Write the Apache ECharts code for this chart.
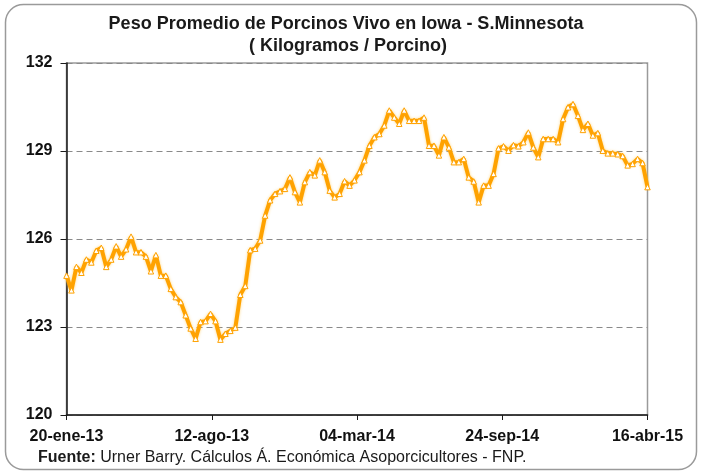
<!DOCTYPE html>
<html>
<head>
<meta charset="utf-8">
<script src="https://cdn.jsdelivr.net/npm/echarts@6/dist/echarts.min.js"></script>
<style>
html,body{margin:0;padding:0;background:#fff;}
#chart{width:704px;height:473px;}
</style>
</head>
<body>
<div id="chart"></div>
<script>
const titleLines = ['Peso Promedio de Porcinos Vivo en Iowa - S.Minnesota', '( Kilogramos / Porcino)'];
const sourceLabel = 'Fuente:';
const sourceText = ' Urner Barry. Cálculos Á. Económica Asoporcicultores - FNP.';
const xTickLabels = ['20-ene-13', '12-ago-13', '04-mar-14', '24-sep-14', '16-abr-15'];
const yTicks = [120, 123, 126, 129, 132];
// weekly average live weight (kg/pig)
const weights2013a = [124.75, 124.25, 125.05, 124.85, 125.3, 125.2, 125.6, 125.7, 125.05, 125.3, 125.75, 125.4, 125.65, 126.08, 125.55, 125.55, 125.4, 124.9, 125.45, 124.75, 124.75, 124.3];
const weights2013b = [124.02, 123.85, 123.4, 122.95, 122.6, 123.17, 123.2, 123.45, 123.2, 122.57, 122.77, 122.87, 122.98, 124.1, 124.4, 125.62, 125.67, 125.95];
const weights2013c = [126.8, 127.32, 127.54, 127.63, 127.71, 128.1, 127.6, 127.25, 127.94, 128.28, 128.17, 128.68, 128.28, 127.65, 127.42, 127.54, 127.97, 127.82];
const weights2014a = [128.0, 128.28, 128.68, 129.18, 129.47, 129.58, 129.87, 130.38, 130.14, 129.93, 130.38, 130.03, 130.03, 130.03, 130.14, 129.18, 129.18, 128.85, 129.47, 129.12];
const weights2014b = [128.62, 128.62, 128.73, 128.1, 127.96, 127.25, 127.82, 127.82, 128.22, 129.09, 129.16, 129.01, 129.2, 129.16, 129.3, 129.63, 129.12, 128.79];
const weights2015 = [129.41, 129.41, 129.41, 129.3, 130.09, 130.49, 130.6, 130.2, 129.72, 129.93, 129.53, 129.61, 129.01, 128.92, 128.92, 128.89, 128.83, 128.51, 128.56, 128.73, 128.59, 127.77];

const weights = [].concat(weights2013a, weights2013b, weights2013c, weights2014a, weights2014b, weights2015);
const nWeeks = weights.length - 1;
const xStep = nWeeks / (xTickLabels.length - 1);
const seriesData = weights.map((v, i) => [i, v]);

const chart = echarts.init(document.getElementById('chart'), null, {renderer: 'canvas'});
const FONT = '"Liberation Sans", Arial, sans-serif';
const ORANGE = '#FFA200';

chart.setOption({
  animation: false,
  backgroundColor: '#ffffff',
  grid: {left: 66.5, right: 56.5, top: 63, bottom: 58, show: true, borderColor: '#9a9a9a', borderWidth: 1.5, backgroundColor: 'transparent'},
  xAxis: {
    type: 'value', min: 0, max: nWeeks, interval: xStep,
    axisLine: {show: true, onZero: false, lineStyle: {color: '#1a1a1a', width: 1.5}},
    axisTick: {show: true, inside: false, length: 5, lineStyle: {color: '#1a1a1a'}},
    axisLabel: {margin: 14, fontFamily: FONT, fontWeight: 'bold', fontSize: 16, color: '#111',
      formatter: v => xTickLabels[Math.round(v / xStep)] || ''},
    splitLine: {show: false}
  },
  yAxis: {
    type: 'value', min: yTicks[0], max: yTicks[yTicks.length - 1], interval: yTicks[1] - yTicks[0],
    axisLine: {show: true, lineStyle: {color: '#1a1a1a', width: 1.5}},
    axisTick: {show: true, inside: false, length: 6, lineStyle: {color: '#1a1a1a'}},
    axisLabel: {margin: 14, fontFamily: FONT, fontWeight: 'bold', fontSize: 16, color: '#111'},
    splitLine: {show: true, lineStyle: {color: '#8a8a8a', width: 1.2, type: [6, 4]}}
  },
  series: [{
    type: 'line',
    data: seriesData,
    symbol: 'triangle',
    symbolSize: 5.5,
    showAllSymbol: true,
    lineStyle: {color: ORANGE, width: 4, shadowColor: 'rgba(255,200,80,0.7)', shadowBlur: 3},
    itemStyle: {color: '#ffffff', borderColor: ORANGE, borderWidth: 1}
  }],
  graphic: [
    {type: 'rect', shape: {x: 5.5, y: 4.5, width: 691, height: 465, r: 18}, style: {fill: 'none', stroke: '#9a9a9a', lineWidth: 1.5}, z: -1},
    {type: 'text', x: 346, y: 24, style: {text: titleLines[0], font: 'bold 18px ' + FONT, fill: '#1a1a1a', align: 'center', verticalAlign: 'middle'}},
    {type: 'text', x: 348, y: 46, style: {text: titleLines[1], font: 'bold 18px ' + FONT, fill: '#1a1a1a', align: 'center', verticalAlign: 'middle'}},
    {type: 'text', x: 38, y: 458, style: {
      text: '{b|' + sourceLabel + '}{n|' + sourceText + '}',
      verticalAlign: 'middle',
      rich: {
        b: {font: 'bold 16px ' + FONT, fill: '#1a1a1a'},
        n: {font: '16px ' + FONT, fill: '#1a1a1a'}
      }
    }}
  ]
});
</script>
</body>
</html>
